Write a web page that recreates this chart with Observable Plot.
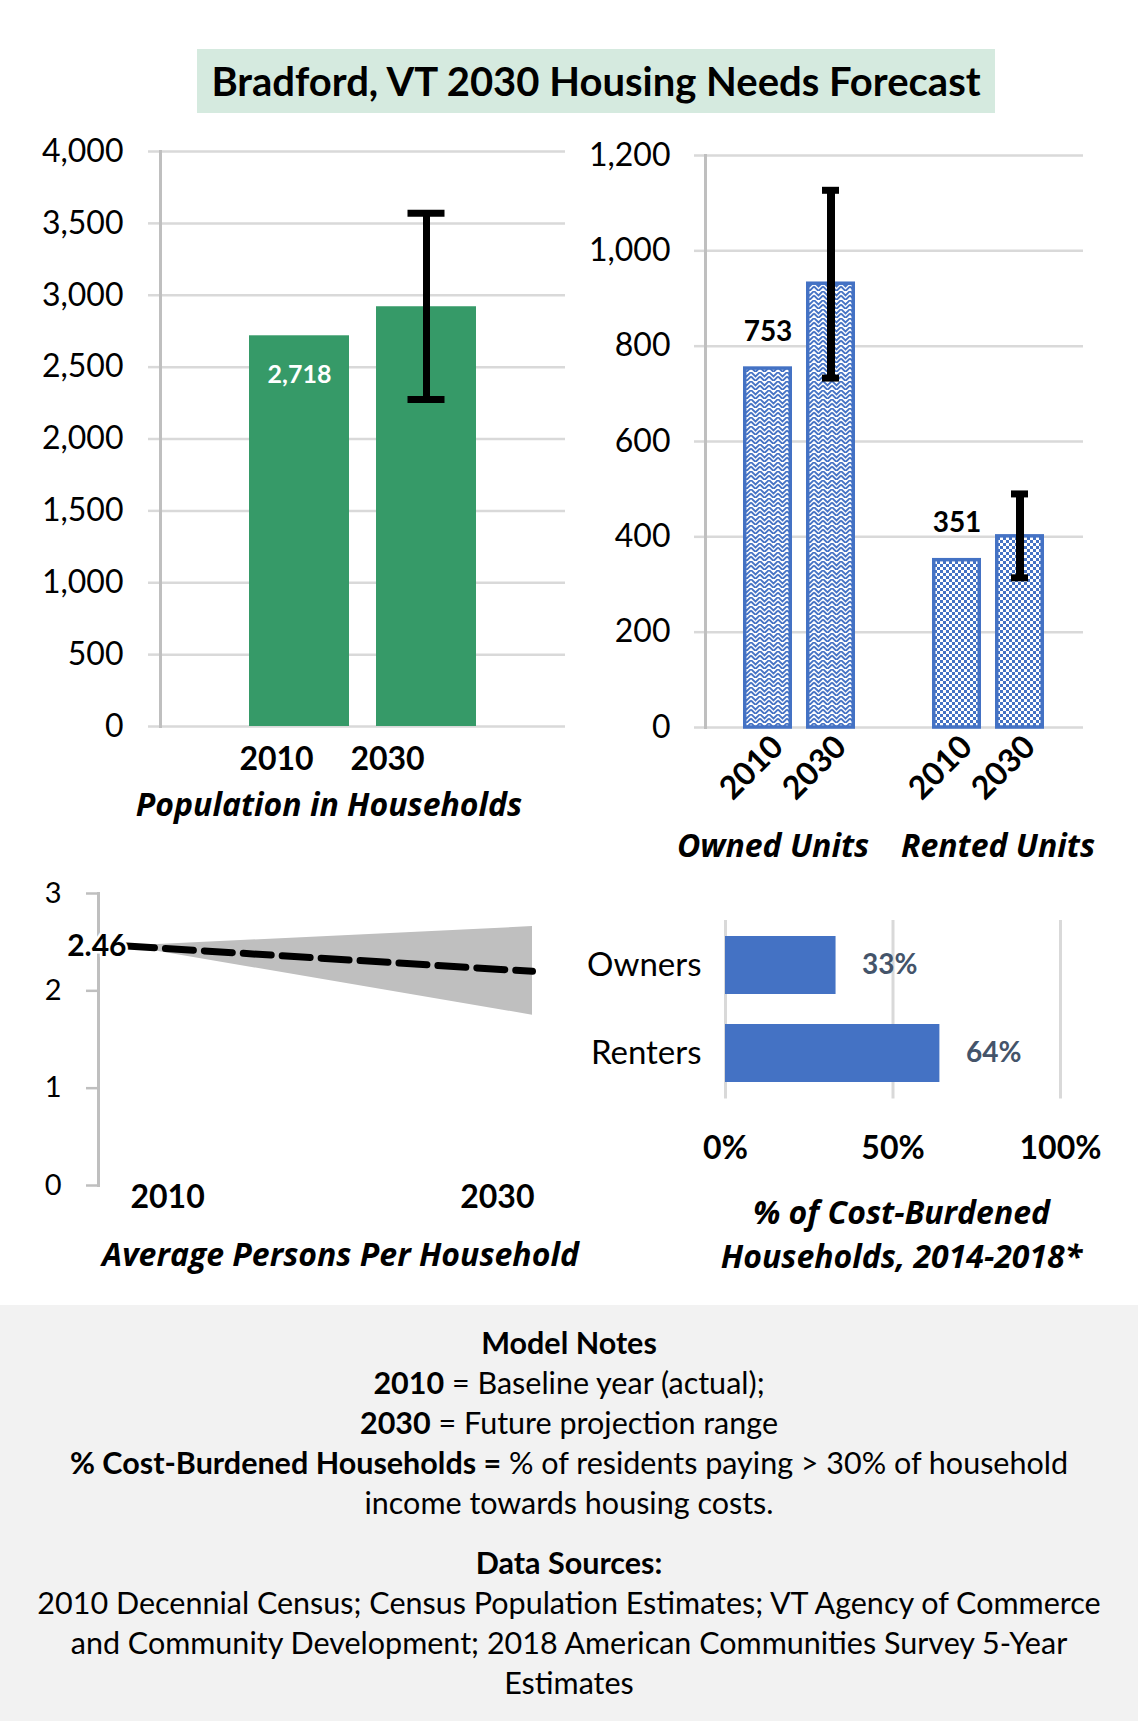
<!DOCTYPE html>
<html>
<head>
<meta charset="utf-8">
<script src="https://cdn.jsdelivr.net/npm/d3@7"></script>
<script src="https://cdn.jsdelivr.net/npm/@observablehq/plot@0.6"></script>
<style>
  body { margin: 0; background: #fff; font-family: Lato, "Open Sans", sans-serif; color: #000; }
  #page { position: relative; width: 1138px; height: 1721px; overflow: hidden; background: #fff; }
  .abs { position: absolute; }
  .title { position: absolute; left: 197px; top: 49px; width: 798px; height: 64px; background: #d5eadf;
           text-align: center; line-height: 64px; font-size: 40px; font-weight: bold; white-space: nowrap; }
  .ctitle { position: absolute; text-align: center; font-family: "Open Sans", Lato, sans-serif; font-weight: bold; font-style: italic; font-size: 32px; white-space: nowrap; }
  .notes { position: absolute; left: 0; top: 1305px; width: 1138px; height: 416px; background: #f2f2f2;
           text-align: center; font-size: 30.5px; line-height: 40px; box-sizing: border-box; padding-top: 17px; }
  .notes div { white-space: nowrap; }
</style>
</head>
<body>
<svg width="0" height="0" style="position:absolute">
  <defs>
    <pattern id="ownedPattern" patternUnits="userSpaceOnUse" width="9" height="9">
      <rect width="9" height="9" fill="#fff"/>
      <path d="M0,0 L4.5,4.5 L9,0 M0,4.5 L4.5,9 L9,4.5" fill="none" stroke="#4472c4" stroke-width="1.8"/>
    </pattern>
    <pattern id="rentedPattern" patternUnits="userSpaceOnUse" width="6" height="6">
      <rect width="6" height="6" fill="#fff"/>
      <rect x="0" y="0" width="3" height="3" fill="#4472c4"/>
      <rect x="3" y="3" width="3" height="3" fill="#4472c4"/>
    </pattern>
  </defs>
</svg>
<div id="page">
  <div class="title">Bradford, VT 2030 Housing Needs Forecast</div>
  <div id="chartA" class="abs" style="left:0;top:120px"></div>
  <div id="chartB" class="abs" style="left:570px;top:120px"></div>
  <div id="chartC" class="abs" style="left:0;top:860px"></div>
  <div id="chartD" class="abs" style="left:570px;top:880px"></div>
  <div class="ctitle" style="left:0;width:658px;top:784px;line-height:40px">Population in Households</div>
  <div class="ctitle" style="left:0;width:681px;top:1234px;line-height:40px">Average Persons Per Household</div>
  <div class="ctitle" style="left:703px;width:397px;top:1190px;line-height:44px">% of Cost-Burdened<br>Households, 2014-2018*</div>
  <div class="notes">
    <div><b>Model Notes</b></div>
    <div><b>2010</b> = Baseline year (actual);</div>
    <div><b>2030</b> = Future projection range</div>
    <div><b>% Cost-Burdened Households =</b> % of residents paying &gt; 30% of household</div>
    <div>income towards housing costs.</div>
    <div style="margin-top:20px"><b>Data Sources:</b></div>
    <div>2010 Decennial Census; Census Population Estimates; VT Agency of Commerce</div>
    <div>and Community Development; 2018 American Communities Survey 5-Year</div>
    <div>Estimates</div>
  </div>
</div>
<script>
// ---- Data: Population in Households ----
const popYears = ["2010", "2030"];
const popValues = [2718, 2920];
const popLow = [null, 2275];
const popHigh = [null, 3570];
const popLabelShown = [true, false];
const popTicks = [0, 500, 1000, 1500, 2000, 2500, 3000, 3500, 4000];

// ---- Data: Owned / Rented Units ----
const unitGroups = ["Owned Units", "Owned Units", "Rented Units", "Rented Units"];
const unitYears = ["2010", "2030", "2010", "2030"];
const unitValues = [753, 931, 351, 401];
const unitLow = [null, 733, null, 314];
const unitHigh = [null, 1127, null, 490];
const unitLabelShown = [true, false, true, false];
const unitTicks = [0, 200, 400, 600, 800, 1000, 1200];
const unitGroupNames = ["Owned Units", "Rented Units"];

// ---- Data: Average Persons Per Household ----
const pphYears = [2010, 2030];
const pphMid = [2.46, 2.20];
const pphLow = [2.46, 1.75];
const pphHigh = [2.46, 2.66];
const pphTicks = [0, 1, 2, 3];

// ---- Data: Cost-burdened households ----
const cbCategories = ["Owners", "Renters"];
const cbValues = [0.33, 0.64];
const cbTicks = [0, 0.5, 1];

const FONT = "Lato, 'Open Sans', sans-serif";
const TFONT = "'Open Sans', Lato, sans-serif";
const GRID = "#d9d9d9";
const AXIS = "#bfbfbf";
const BLUE = "#4472c4";

// ---------- Chart A ----------
const pop = popYears.map((year, i) => ({year, value: popValues[i], low: popLow[i], high: popHigh[i], label: popLabelShown[i]}));
const popErr = pop.filter(d => d.high != null);
const chartA = Plot.plot({
  width: 570, height: 680,
  marginTop: 31, marginLeft: 160, marginRight: 5, marginBottom: 74,
  style: {fontFamily: FONT, background: "transparent", color: "#000"},
  x: {domain: popYears, paddingInner: 0.21, paddingOuter: 0.69},
  y: {domain: [0, 4000]},
  marks: [
    Plot.gridY({ticks: popTicks, stroke: GRID, strokeOpacity: 1, strokeWidth: 2.5}),
    Plot.axisY({ticks: popTicks, tickFormat: d3.format(","), tickSize: 12, tickPadding: 25, stroke: GRID, strokeWidth: 2.5, fill: "#000", fontSize: 32, label: null}),
    Plot.frame({anchor: "left", stroke: AXIS, strokeWidth: 3}),
    Plot.barY(pop, {x: "year", y: "value", fill: "#369a68"}),
    Plot.ruleX(popErr, {x: "year", y1: "low", y2: "high", stroke: "#000", strokeWidth: 7}),
    Plot.tickY(popErr, {x: "year", y: "low", stroke: "#000", strokeWidth: 7, insetLeft: 31.5, insetRight: 31.5}),
    Plot.tickY(popErr, {x: "year", y: "high", stroke: "#000", strokeWidth: 7, insetLeft: 31.5, insetRight: 31.5}),
    Plot.text(pop.filter(d => d.label), {x: "year", y: "value", text: d => d3.format(",")(d.value), dy: 39, fill: "#fff", fontWeight: "bold", fontSize: 25}),
    Plot.axisX({ticks: [popYears[0]], tickSize: 0, tickPadding: 21, dx: -23, fontSize: 32, fontWeight: "bold", label: null}),
    Plot.axisX({ticks: [popYears[1]], tickSize: 0, tickPadding: 21, dx: -39, fontSize: 32, fontWeight: "bold", label: null})
  ]
});
document.getElementById("chartA").append(chartA);

// ---------- Chart B ----------
const units = unitGroups.map((group, i) => ({group, year: unitYears[i], value: unitValues[i], low: unitLow[i], high: unitHigh[i], label: unitLabelShown[i]}));
const unitErr = units.filter(d => d.high != null);
const chartB = Plot.plot({
  width: 568, height: 750,
  marginTop: 35, marginLeft: 134, marginRight: 55, marginBottom: 143,
  style: {fontFamily: FONT, background: "transparent", color: "#000"},
  fx: {domain: unitGroupNames, padding: 0},
  x: {domain: ["2010", "2030"], paddingInner: 0.219, paddingOuter: 0.59},
  y: {domain: [0, 1200]},
  marks: [
    Plot.gridY({ticks: unitTicks, stroke: GRID, strokeOpacity: 1, strokeWidth: 2.5}),
    Plot.axisY({ticks: unitTicks, tickFormat: d3.format(","), tickSize: 11, tickPadding: 24, stroke: GRID, strokeWidth: 2.5, fill: "#000", fontSize: 32, label: null}),
    Plot.frame({anchor: "left", facetAnchor: "left", stroke: AXIS, strokeWidth: 3}),
    Plot.barY(units.filter(d => d.group === unitGroupNames[0]), {fx: "group", x: "year", y: "value", fill: "url(#ownedPattern)", stroke: BLUE, strokeWidth: 3.5, insetLeft: 1.75, insetRight: 1.75}),
    Plot.barY(units.filter(d => d.group === unitGroupNames[1]), {fx: "group", x: "year", y: "value", fill: "url(#rentedPattern)", stroke: BLUE, strokeWidth: 3.5, insetLeft: 1.75, insetRight: 1.75}),
    Plot.ruleX(unitErr, {fx: "group", x: "year", y1: "low", y2: "high", stroke: "#000", strokeWidth: 8}),
    Plot.tickY(unitErr, {fx: "group", x: "year", y: "low", stroke: "#000", strokeWidth: 7, insetLeft: 16, insetRight: 16}),
    Plot.tickY(unitErr, {fx: "group", x: "year", y: "high", stroke: "#000", strokeWidth: 7, insetLeft: 16, insetRight: 16}),
    Plot.text(units.filter(d => d.label), {fx: "group", x: "year", y: "value", text: d => String(d.value), dy: -37, fill: "#000", fontWeight: "bold", fontSize: 28}),
    Plot.axisX({tickRotate: -45, tickSize: 0, tickPadding: 14, dx: 10, fontSize: 32, fontWeight: "bold", label: null}),
    Plot.axisFx({ticks: [unitGroupNames[0]], anchor: "bottom", tickSize: 0, tickPadding: 107, dx: -27, fontFamily: TFONT, fontSize: 32, fontWeight: "bold", fontStyle: "italic", label: null}),
    Plot.axisFx({ticks: [unitGroupNames[1]], anchor: "bottom", tickSize: 0, tickPadding: 107, dx: 9, fontFamily: TFONT, fontSize: 32, fontWeight: "bold", fontStyle: "italic", label: null})
  ]
});
document.getElementById("chartB").append(chartB);

// ---------- Chart C ----------
const pph = pphYears.map((year, i) => ({year, mid: pphMid[i], low: pphLow[i], high: pphHigh[i]}));
const chartC = Plot.plot({
  width: 570, height: 360,
  marginTop: 33, marginBottom: 35, marginLeft: 98, marginRight: 38,
  style: {fontFamily: FONT, background: "transparent", color: "#000"},
  x: {domain: [2010, 2030], insetLeft: 28},
  y: {domain: [0, 3]},
  marks: [
    Plot.frame({anchor: "left", stroke: AXIS, strokeWidth: 3}),
    Plot.axisY({ticks: pphTicks, tickFormat: d => String(d), tickSize: 12, tickPadding: 25, stroke: AXIS, strokeWidth: 2.5, fill: "#000", fontSize: 29, label: null}),
    Plot.areaY(pph, {x: "year", y1: "low", y2: "high", fill: "#bfbfbf"}),
    Plot.line(pph, {x: "year", y: "mid", stroke: "#000", strokeWidth: 7, strokeDasharray: "28 11"}),
    Plot.text(pph.slice(0, 1), {x: "year", y: "mid", text: d => d.mid.toFixed(2), textAnchor: "end", fill: "#000", stroke: "#fff", strokeWidth: 5, fontWeight: "bold", fontSize: 30}),
    Plot.axisX({ticks: [pphYears[0]], tickFormat: d => String(d), textAnchor: "start", tickSize: 0, tickPadding: 0, dx: 4, fontSize: 32, fontWeight: "bold", label: null}),
    Plot.axisX({ticks: [pphYears[1]], tickFormat: d => String(d), textAnchor: "end", tickSize: 0, tickPadding: 0, dx: 2, fontSize: 32, fontWeight: "bold", label: null})
  ]
});
document.getElementById("chartC").append(chartC);

// ---------- Chart D ----------
const cb = cbCategories.map((cat, i) => ({cat, value: cbValues[i]}));
const chartD = Plot.plot({
  width: 568, height: 300,
  marginTop: 40, marginBottom: 81.5, marginLeft: 155, marginRight: 78,
  style: {fontFamily: FONT, background: "transparent", color: "#000"},
  x: {domain: [0, 1]},
  y: {domain: cbCategories, paddingInner: 0.34, paddingOuter: 0.173},
  marks: [
    Plot.gridX({ticks: cbTicks, stroke: GRID, strokeOpacity: 1, strokeWidth: 3}),
    Plot.barX(cb, {y: "cat", x: "value", fill: BLUE}),
    Plot.text(cb, {y: "cat", x: "value", text: d => d3.format(".0%")(d.value), textAnchor: "start", dx: 26, fill: "#44546a", fontWeight: "bold", fontSize: 28}),
    Plot.axisY({tickSize: 0, tickPadding: 24, fill: "#000", fontSize: 33, label: null}),
    Plot.axisX({ticks: cbTicks, tickFormat: d3.format(".0%"), tickSize: 0, tickPadding: 37, fill: "#000", fontSize: 32, fontWeight: "bold", label: null})
  ]
});
document.getElementById("chartD").append(chartD);
</script>
</body>
</html>
